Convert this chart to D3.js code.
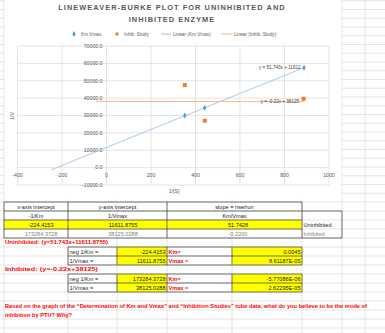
<!DOCTYPE html>
<html>
<head>
<meta charset="utf-8">
<script src="https://cdn.jsdelivr.net/npm/d3@7"></script>
<style>
  body { margin: 0; background: #fff; }
  svg { display: block; font-family: "Liberation Sans", Arial, sans-serif; }
</style>
</head>
<body>
<svg id="sheet" width="385" height="333"></svg>
<script>
// ---- chart data ----
const kmVmaxX = [352, 441, 888];
const kmVmaxY = [30000, 34400, 57500];
const inhibX = [352, 442, 886];
const inhibY = [47500, 27000, 39650];
const seriesNames = ["Km Vmax", "Inhib. Study"];
const trendNames = ["Linear (Km Vmax)", "Linear (Inhib. Study)"];
const trendSlopes = [51.743, -0.22];
const trendIntercepts = [11612, 38125];
const trendStarts = [-248, -48];
const trendEnds = [888, 888];
const trendLabels = ["y = 51.743x + 11612", "y = -0.22x + 38125"];
const xTicks = [-400, -200, 0, 200, 400, 600, 800, 1000];
const yTicks = [-10000, 0, 10000, 20000, 30000, 40000, 50000, 60000, 70000];

// ---- sheet data ----
const headerLabels = ["x-axis intercept", "y-axis intercept", "slope = rise/run"];
const headerUnits = ["-1/Km", "1/Vmax", "Km/Vmax"];
const uninhibitedRow = ["-224.4153", "11611.8755", "51.7428"];
const inhibitedRow = ["173284.3728", "38125.0288", "-0.2200"];
const rowNames = ["Uninhibited", "Inhibited"];
const equationLabels = ["Uninhibited: (y=51.743x+11611.8755)", "Inhibited: (y=-0.22x+38125)"];
const calcLabels = ["neg 1/Km =", "1/Vmax ="];
const resultLabels = ["Km=", "Vmax ="];
const uninhibitedCalc = ["-224.4153", "11611.8755"];
const uninhibitedResult = ["0.0045", "8.61187E-05"];
const inhibitedCalc = ["173284.3728", "38125.0288"];
const inhibitedResult = ["-5.77086E-06", "2.62295E-05"];
const questionLines = [
  "Based on the graph of the \u201cDetermination of Km and Vmax\u201d and \u201cInhibition Studies\u201d tube data, what do you believe to be the mode of",
  "inhibition by PTU?  Why?"
];

const blue = "#5B9BD5", orange = "#ED7D31";
const trendColors = ["#9DC3E6", "#F4B183"];
const gridGrey = "#d9d9d9", cellGrey = "#d4d4d4", textGrey = "#595959";

const svg = d3.select("#sheet");

/*
** SPREADSHEET GRID
*/
const rowH = 9;
const tableTop = 202;
let rowLines = [];
for (let y = tableTop; y > 0; y -= 8.75) rowLines.push(y);
for (let y = tableTop + rowH; y < 333; y += rowH) rowLines.push(y);
const sheetCols = [4, 68, 117, 167, 232, 302, 342, 365];

svg.append("g").selectAll("line").data(rowLines).join("line")
  .attr("x1", 0).attr("x2", 385).attr("y1", d => d).attr("y2", d => d)
  .attr("stroke", cellGrey).attr("stroke-width", 0.6);
svg.append("g").selectAll("line").data(sheetCols).join("line")
  .attr("x1", d => d).attr("x2", d => d).attr("y1", 0).attr("y2", 333)
  .attr("stroke", cellGrey).attr("stroke-width", 0.6);

/*
** CHART
*/
svg.append("rect").attr("x", 4.5).attr("y", 0).attr("width", 337).attr("height", 199).attr("fill", "#fff");

const x = d3.scaleLinear().domain([-400, 1000]).range([17.5, 329]);
const y = d3.scaleLinear().domain([-10000, 70000]).range([185, 46]);

// title
svg.append("g").selectAll("text").data(["LINEWEAVER-BURKE PLOT FOR UNINHIBITED AND", "INHIBITED ENZYME"]).join("text")
  .attr("x", 172).attr("y", (d, i) => 10 + i * 12)
  .attr("text-anchor", "middle").attr("font-size", 7.4).attr("font-weight", "bold")
  .attr("letter-spacing", 1.05).attr("fill", textGrey).text(d => d);

// legend
const legend = svg.append("g").attr("font-size", 4.7).attr("fill", textGrey);
legend.append("path").attr("d", d3.symbol(d3.symbolDiamond, 10)()).attr("transform", "translate(74,34)").attr("fill", blue);
legend.append("rect").attr("x", 115.5).attr("y", 32.5).attr("width", 3).attr("height", 3).attr("fill", orange);
legend.append("line").attr("x1", 161).attr("x2", 171).attr("y1", 34).attr("y2", 34).attr("stroke", trendColors[0]);
legend.append("line").attr("x1", 221).attr("x2", 232).attr("y1", 34).attr("y2", 34).attr("stroke", trendColors[1]);
legend.selectAll("text").data([
  [81, seriesNames[0]], [124, seriesNames[1]], [173, trendNames[0]], [234, trendNames[1]]
]).join("text").attr("x", d => d[0]).attr("y", 35.6).text(d => d[1]);

// gridlines
const plot = svg.append("g");
plot.selectAll(".hg").data(yTicks).join("line").attr("class", "hg")
  .attr("x1", x(-400)).attr("x2", x(1000)).attr("y1", d => y(d)).attr("y2", d => y(d))
  .attr("stroke", gridGrey).attr("stroke-width", 0.7);
plot.selectAll(".vg").data(xTicks).join("line").attr("class", "vg")
  .attr("x1", d => x(d)).attr("x2", d => x(d)).attr("y1", y(70000)).attr("y2", y(-10000))
  .attr("stroke", gridGrey).attr("stroke-width", 0.7);

// tick labels
plot.selectAll(".yl").data(yTicks).join("text").attr("class", "yl")
  .attr("x", x(0) - 4).attr("y", d => y(d) + 1.8).attr("text-anchor", "end")
  .attr("font-size", 5.2).attr("fill", textGrey).text(d => d3.format(".1f")(d));
plot.selectAll(".xl").data(xTicks).join("text").attr("class", "xl")
  .attr("x", d => x(d)).attr("y", y(0) + 9.5).attr("text-anchor", "middle")
  .attr("font-size", 5.2).attr("fill", textGrey).text(d => d);

// axis titles
plot.append("text").attr("transform", "translate(14,116) rotate(-90)").attr("text-anchor", "middle")
  .attr("font-size", 5.2).attr("fill", textGrey).text("1/V");
plot.append("text").attr("x", 174).attr("y", 192.5).attr("text-anchor", "middle")
  .attr("font-size", 5.2).attr("fill", textGrey).text("1/[S]");

// trendlines
trendSlopes.forEach((m, i) => {
  const b = trendIntercepts[i];
  plot.append("line")
    .attr("x1", x(trendStarts[i])).attr("y1", y(m * trendStarts[i] + b))
    .attr("x2", x(trendEnds[i])).attr("y2", y(m * trendEnds[i] + b))
    .attr("stroke", trendColors[i]).attr("stroke-width", 0.9);
});

// points
plot.selectAll(".km").data(kmVmaxX).join("path").attr("class", "km")
  .attr("d", d3.symbol(d3.symbolDiamond, 10)())
  .attr("transform", (d, i) => `translate(${x(d)},${y(kmVmaxY[i])})`).attr("fill", blue);
plot.selectAll(".inh").data(inhibX).join("rect").attr("class", "inh")
  .attr("x", (d) => x(d) - 2).attr("y", (d, i) => y(inhibY[i]) - 2)
  .attr("width", 4).attr("height", 4).attr("fill", orange);

// trendline labels
trendLabels.forEach((t, i) => {
  const xe = trendEnds[i];
  plot.append("text").attr("x", x(xe) - (i ? 5 : 3.5)).attr("y", y(trendSlopes[i] * xe + trendIntercepts[i]) + 1.6)
    .attr("text-anchor", "end").attr("font-size", 4.6).attr("fill", "#404040").text(t);
});

/*
** TABLE
*/
const table = svg.append("g").attr("font-size", 5.6);
const colA = [4, 68, 167, 302];
const valueCenters = [41, 123, 238];
const headCenters = [36, 117.5, 234.5];

// yellow cells
table.append("rect").attr("x", 4).attr("y", tableTop + 2 * rowH).attr("width", 298).attr("height", rowH).attr("fill", "#FFFF00");
[tableTop + 5 * rowH, tableTop + 6 * rowH, tableTop + 8 * rowH, tableTop + 9 * rowH].forEach(ry => {
  table.append("rect").attr("x", 117).attr("y", ry).attr("width", 50).attr("height", rowH).attr("fill", "#FFFF00");
  table.append("rect").attr("x", 232).attr("y", ry).attr("width", 70).attr("height", rowH).attr("fill", "#FFFF00");
});

// borders
const border = (x1, y1, x2, y2) => table.append("line")
  .attr("x1", x1).attr("y1", y1).attr("x2", x2).attr("y2", y2)
  .attr("stroke", "#3a3a3a").attr("stroke-width", 0.7);
for (let r = 0; r <= 4; r++) border(4, tableTop + r * rowH, 302, tableTop + r * rowH);
colA.forEach(cx => border(cx, tableTop, cx, tableTop + 4 * rowH));
border(302, tableTop + rowH, 342, tableTop + rowH);
border(302, tableTop + 4 * rowH, 342, tableTop + 4 * rowH);
border(342, tableTop + rowH, 342, tableTop + 4 * rowH);
[tableTop + 5 * rowH, tableTop + 8 * rowH].forEach(top => {
  for (let r = 0; r <= 2; r++) border(68, top + r * rowH, 302, top + r * rowH);
  [68, 117, 167, 232, 302].forEach(cx => border(cx, top, cx, top + 2 * rowH));
});

const cellText = (tx, ty, txt, anchor, color, weight) => table.append("text")
  .attr("x", tx).attr("y", ty + 6.5).attr("text-anchor", anchor)
  .attr("fill", color).attr("font-weight", weight || "normal").text(txt);

headerLabels.forEach((t, i) => cellText(headCenters[i], tableTop, t, "middle", "#222"));
headerUnits.forEach((t, i) => cellText(headCenters[i], tableTop + rowH, t, "middle", "#222"));
uninhibitedRow.forEach((t, i) => cellText(valueCenters[i], tableTop + 2 * rowH, t, "middle", "#222"));
inhibitedRow.forEach((t, i) => cellText(valueCenters[i], tableTop + 3 * rowH, t, "middle", "#7f7f7f"));
cellText(303.5, tableTop + 2 * rowH, rowNames[0], "start", "#222");
cellText(303.5, tableTop + 3 * rowH, rowNames[1], "start", "#7f7f7f");

// calculation boxes
const eqWidths = [103, 93];
[[uninhibitedCalc, uninhibitedResult], [inhibitedCalc, inhibitedResult]].forEach((pair, k) => {
  const labelRow = tableTop + (4 + 3 * k) * rowH;
  cellText(5, labelRow - 0.5, equationLabels[k], "start", "#FF0000", "bold")
    .attr("textLength", eqWidths[k]).attr("lengthAdjust", "spacingAndGlyphs");
  for (let r = 0; r < 2; r++) {
    const ry = labelRow + (r + 1) * rowH;
    cellText(69.5, ry, calcLabels[r], "start", "#222");
    cellText(165.5, ry, pair[0][r], "end", "#222");
    cellText(168.5, ry, resultLabels[r], "start", "#FF0000", "bold");
    cellText(300.5, ry, pair[1][r], "end", "#222");
  }
});

// question text
const questionWidths = [362, 67];
questionLines.forEach((t, i) => {
  table.append("text").attr("x", 5).attr("y", tableTop + (11 + i) * rowH + 6.6)
    .attr("font-weight", "bold").attr("fill", "#FF0000").attr("font-size", 5.6)
    .attr("textLength", questionWidths[i]).attr("lengthAdjust", "spacingAndGlyphs").text(t);
});
</script>
</body>
</html>
